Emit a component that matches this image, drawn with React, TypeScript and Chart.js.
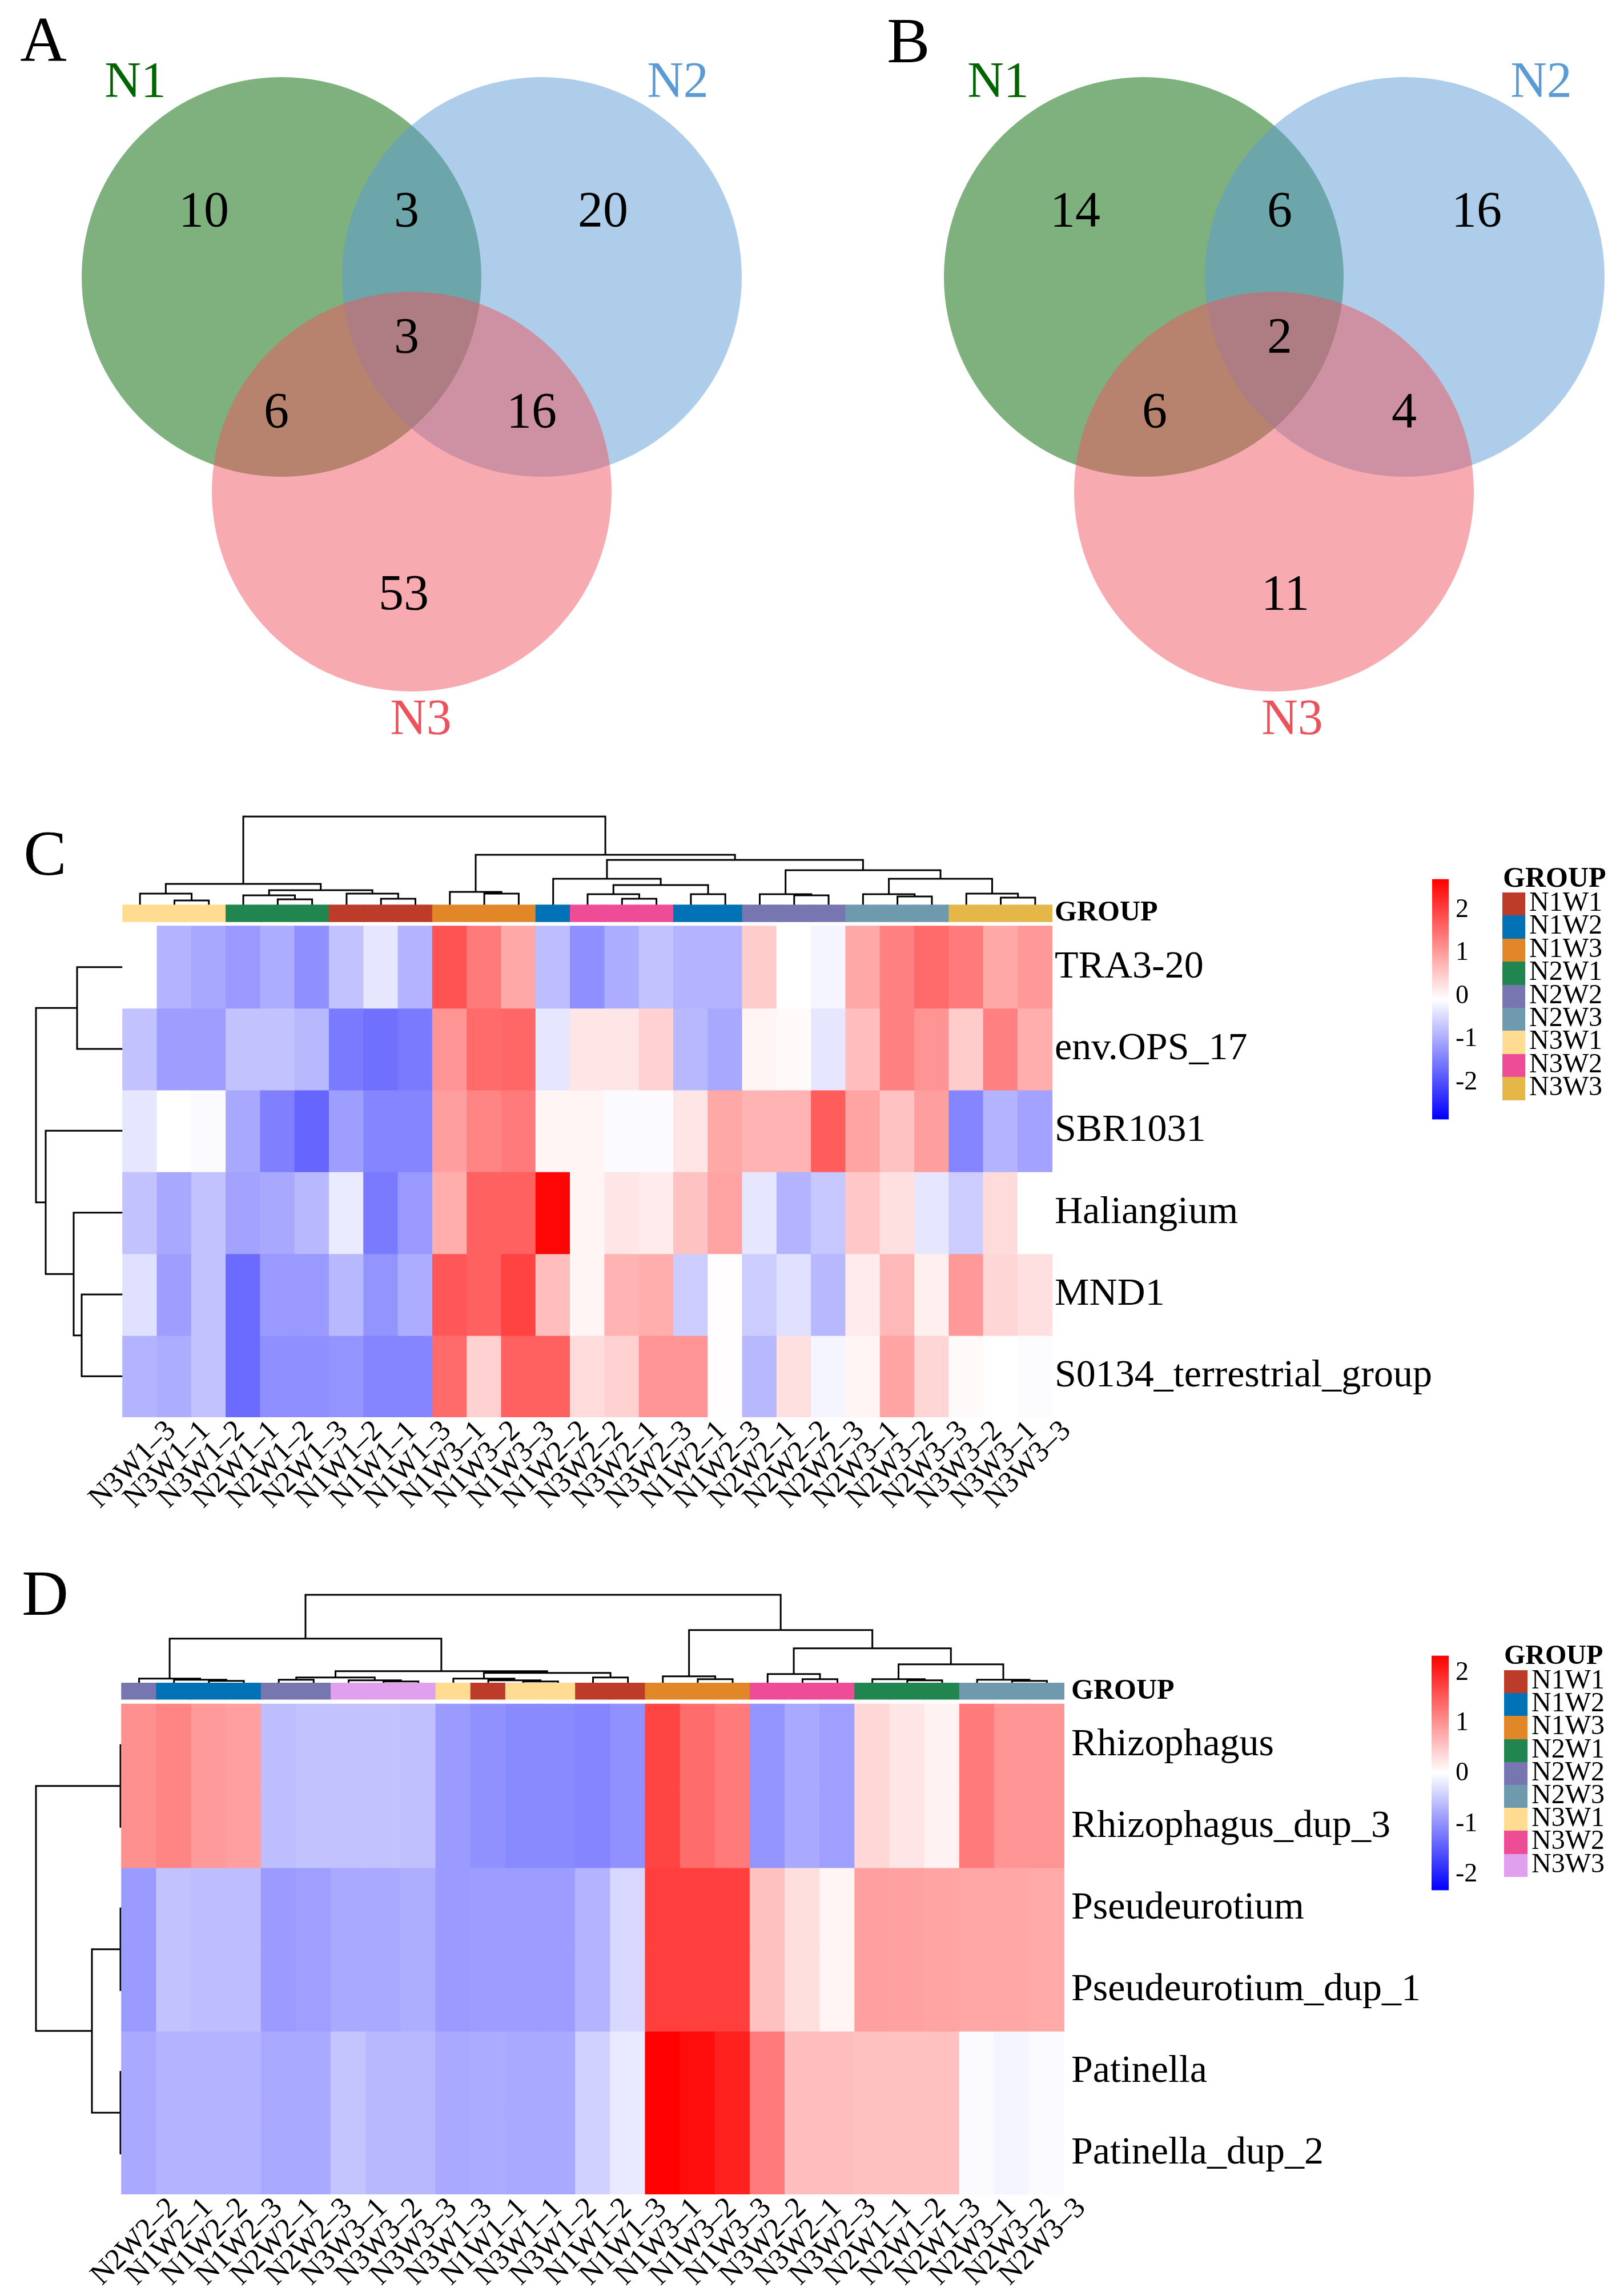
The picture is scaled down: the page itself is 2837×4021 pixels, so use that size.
import React, { useEffect, useRef } from 'react';
import { Chart, registerables } from 'chart.js';

Chart.register(...registerables);

const FONT = "'Liberation Serif', 'Times New Roman', Times, serif";
Chart.defaults.font.family = FONT;
Chart.defaults.color = '#000';

// ================= Venn data =================
const VENN_SETS = ['N1', 'N2', 'N3'];
// order: N1 only, N2 only, N3 only, N1&N2, N1&N3, N2&N3, N1&N2&N3
const VENN_A_COUNTS = [10, 20, 53, 3, 6, 16, 3];
const VENN_B_COUNTS = [14, 16, 11, 6, 6, 4, 2];
const VENN_FILLS = ['rgba(0,100,0,0.5)', 'rgba(91,155,213,0.5)', 'rgba(239,85,95,0.5)'];
const VENN_LABEL_COLORS = ['#006400', '#5B9BD5', '#EB525C'];

// layout (pixels of the figure)
const VENN_GEOM = {
  width: 2837,
  height: 1330,
  radius: 350,
  panels: [
    {
      centers: [[493, 485], [949, 485], [721, 861]],
      countPos: [[357, 373], [1056, 373], [707, 1044], [712, 373], [484, 725], [931, 725], [712, 594]],
      labelPos: [[237, 146], [1187, 146], [737, 1262]],
    },
    {
      centers: [[2003, 485], [2460, 485], [2231, 861]],
      countPos: [[1883, 373], [2586, 373], [2251, 1044], [2241, 373], [2022, 725], [2459, 725], [2241, 594]],
      labelPos: [[1748, 146], [2699, 146], [2263, 1262]],
    },
  ],
};

// ================= Groups =================
const GROUP_NAMES = ['N1W1', 'N1W2', 'N1W3', 'N2W1', 'N2W2', 'N2W3', 'N3W1', 'N3W2', 'N3W3'];
const C_GROUP_COLORS = ['#BC3C29', '#0072B5', '#E18727', '#20854E', '#7876B1', '#6F99AD', '#FFDC91', '#EE4C97', '#E4B748'];
const D_GROUP_COLORS = ['#BC3C29', '#0072B5', '#E18727', '#20854E', '#7876B1', '#6F99AD', '#FFDC91', '#EE4C97', '#E1A0EE'];

// ================= Heatmap C =================
const C_COLS = ['N3W1–3', 'N3W1–1', 'N3W1–2', 'N2W1–1', 'N2W1–2', 'N2W1–3', 'N1W1–2', 'N1W1–1', 'N1W1–3',
  'N1W3–1', 'N1W3–2', 'N1W3–3', 'N1W2–2', 'N3W2–2', 'N3W2–1', 'N3W2–3', 'N1W2–1', 'N1W2–3',
  'N2W2–1', 'N2W2–2', 'N2W2–3', 'N2W3–1', 'N2W3–2', 'N2W3–3', 'N3W3–2', 'N3W3–1', 'N3W3–3'];
const C_ROWS = ['TRA3-20', 'env.OPS_17', 'SBR1031', 'Haliangium', 'MND1', 'S0134_terrestrial_group'];
const C_TRA3_20 = [0, -0.84, -0.95, -1.12, -0.9, -1.23, -0.67, -0.28, -0.84, 1.9, 1.46, 0.95, -0.73, -1.23, -0.9, -0.67, -0.84, -0.84, 0.56, 0.0, -0.11, 0.95, 1.4, 1.62, 1.46, 0.95, 1.12];
const C_ENV_OPS_17 = [-0.67, -1.06, -1.06, -0.67, -0.67, -0.78, -1.46, -1.57, -1.46, 1.18, 1.62, 1.68, -0.28, 0.28, 0.28, 0.5, -0.78, -0.95, 0.11, 0.06, -0.28, 0.73, 1.4, 1.18, 0.56, 1.4, 0.9];
const C_SBR1031 = [-0.28, 0, -0.06, -0.95, -1.4, -1.68, -1.06, -1.34, -1.34, 1.06, 1.34, 1.46, 0.11, 0.11, -0.06, -0.06, 0.28, 0.95, 0.84, 0.84, 1.79, 1.01, 0.67, 1.06, -1.34, -0.84, -1.01];
const C_HALIANGIUM = [-0.67, -0.95, -0.67, -1.01, -0.95, -0.78, -0.22, -1.46, -1.12, 0.9, 1.74, 1.74, 2.73, 0.11, 0.28, 0.22, 0.67, 1.01, -0.28, -0.84, -0.62, 0.62, 0.34, -0.28, -0.56, 0.39, 0];
const C_MND1 = [-0.34, -1.06, -0.67, -1.62, -1.12, -1.12, -0.78, -1.18, -0.9, 1.85, 1.74, 2.07, 0.73, 0.11, 0.84, 0.9, -0.56, 0.02, -0.56, -0.34, -0.78, 0.22, 0.78, 0.17, 1.12, 0.45, 0.34];
const C_S0134 = [-0.84, -0.9, -0.67, -1.62, -1.23, -1.23, -1.18, -1.34, -1.34, 1.62, 0.5, 1.74, 1.74, 0.39, 0.5, 1.18, 1.18, 0.02, -0.78, 0.34, -0.11, 0.11, 1.01, 0.45, 0.06, 0, -0.03];
const C_VALUES = [C_TRA3_20, C_ENV_OPS_17, C_SBR1031, C_HALIANGIUM, C_MND1, C_S0134];
// dendrograms: [height, left, right], leaves = column / row index
const C_COL_LEFT = [37, [20, 0, [8, 1, 2]], [26, [17, 3, [10, 4, 5]], [20, 6, [11, 7, 8]]]];
const C_COL_T4 = [46, 12, [35, [19, 13, [11, 14, 15]], [19, 16, 17]]];
const C_COL_T5 = [61, [19, 18, [17, 19, 20]], [46, [19, 21, [15, 22, 23]], [20, 24, [13, 25, 26]]]];
const C_COL_RIGHT = [88, [23, 9, [20, 10, 11]], [79, C_COL_T4, C_COL_T5]];
const C_COL_TREE = [155, C_COL_LEFT, C_COL_RIGHT];
const C_ROW_TREE = [152, [80, 0, 1], [135, 2, [86, 3, [72, 4, 5]]]];
const C_COLOR_MAX = 2.8;
const C_BAR_RANGE = [-2.86, 2.72];

// ================= Heatmap D =================
const D_COLS = ['N2W2–2', 'N1W2–1', 'N1W2–2', 'N1W2–3', 'N2W2–1', 'N2W2–3', 'N3W3–1', 'N3W3–2', 'N3W3–3',
  'N3W1–3', 'N1W1–1', 'N3W1–1', 'N3W1–2', 'N1W1–2', 'N1W1–3', 'N1W3–1', 'N1W3–2', 'N1W3–3',
  'N3W2–2', 'N3W2–1', 'N3W2–3', 'N2W1–1', 'N2W1–2', 'N2W1–3', 'N2W3–1', 'N2W3–2', 'N2W3–3'];
const D_ROWS = ['Rhizophagus', 'Rhizophagus_dup_3', 'Pseudeurotium', 'Pseudeurotium_dup_1', 'Patinella', 'Patinella_dup_2'];
const D_RHIZOPHAGUS = [1.02, 1.12, 0.93, 0.88, -0.6, -0.56, -0.56, -0.56, -0.58, -0.93, -1.02, -1.07, -1.07, -1.12, -1.02, 1.72, 1.35, 1.21, -0.98, -0.79, -0.88, 0.37, 0.23, 0.12, 1.21, 0.98, 0.98];
const D_RHIZOPHAGUS_DUP_3 = [1.02, 1.12, 0.93, 0.88, -0.6, -0.56, -0.56, -0.56, -0.58, -0.93, -1.02, -1.07, -1.07, -1.12, -1.02, 1.72, 1.35, 1.21, -0.98, -0.79, -0.88, 0.37, 0.23, 0.12, 1.21, 0.98, 0.98];
const D_PSEUDEUROTIUM = [-0.93, -0.56, -0.6, -0.6, -0.93, -0.88, -0.79, -0.79, -0.74, -0.93, -0.9, -0.9, -0.9, -0.7, -0.37, 1.77, 1.77, 1.77, 0.58, 0.3, 0.09, 0.88, 0.86, 0.84, 0.82, 0.82, 0.79];
const D_PSEUDEUROTIUM_DUP_1 = [-0.93, -0.56, -0.6, -0.6, -0.93, -0.88, -0.79, -0.79, -0.74, -0.93, -0.9, -0.9, -0.9, -0.7, -0.37, 1.77, 1.77, 1.77, 0.58, 0.3, 0.09, 0.88, 0.86, 0.84, 0.82, 0.82, 0.79];
const D_PATINELLA = [-0.79, -0.7, -0.7, -0.7, -0.79, -0.79, -0.54, -0.65, -0.65, -0.79, -0.77, -0.79, -0.79, -0.42, -0.2, 2.33, 2.23, 2.05, 1.21, 0.6, 0.6, 0.58, 0.58, 0.58, -0.05, -0.09, -0.05];
const D_PATINELLA_DUP_2 = [-0.79, -0.7, -0.7, -0.7, -0.79, -0.79, -0.54, -0.65, -0.65, -0.79, -0.77, -0.79, -0.79, -0.42, -0.2, 2.33, 2.23, 2.05, 1.21, 0.6, 0.6, 0.58, 0.58, 0.58, -0.05, -0.09, -0.05];
const D_VALUES = [D_RHIZOPHAGUS, D_RHIZOPHAGUS_DUP_3, D_PSEUDEUROTIUM, D_PSEUDEUROTIUM_DUP_1, D_PATINELLA, D_PATINELLA_DUP_2];
const D_COL_L1 = [8, 0, [6, 1, [4, 2, 3]]];
const D_COL_L2 = [21, [10, [6, 4, 5], [5, 6, [3, 7, 8]]], [18, [8, 9, [5, 10, [3, 11, 12]]], [10, 13, 14]]];
const D_COL_RIGHT = [93, [12, 15, [7, 16, 17]], [61, [16, 18, [7, 19, 20]], [33, [7, 21, [5, 22, 23]], [6, 24, [4, 25, 26]]]]];
const D_COL_TREE = [155, [78, D_COL_L1, D_COL_L2], D_COL_RIGHT];
const D_ROW_TREE = [150, [2, 0, 1], [52, [2, 2, 3], [2, 4, 5]]];
const D_COLOR_MAX = 2.34;
const D_BAR_RANGE = [-2.31, 2.34];

const COLORBAR_TICKS = [-2, -1, 0, 1, 2];

// ================= layouts (figure pixels) =================
const C_LAYOUT = { left: 0, top: 1380, width: 2530, height: 1320, cellsLeft: 215, cellsRight: 1843, cellsTop: 1622, cellsBottom: 2482, barTop: 1585, barBottom: 1614, chartTop: 1420, leftCols: 3, tickPad: 4, labelOffset: 55 };
const D_LAYOUT = { left: 0, top: 2740, width: 2530, height: 1281, cellsLeft: 213, cellsRight: 1864, cellsTop: 2983, cellsBottom: 3843, barTop: 2946, barBottom: 2974, chartTop: 2780, leftCols: 3, tickPad: 12, labelOffset: 60 };

function heatColor(v: number, vmax: number) {
  const t = Math.min(1, Math.abs(v) / vmax);
  const c = Math.round(255 * (1 - t));
  return v >= 0 ? `rgb(255,${c},${c})` : `rgb(${c},${c},255)`;
}

function dendroPoints(tree: any, map: (p: number, h: number) => any) {
  const pts: any[] = [];
  const walk = (n: any): { p: number; h: number } => {
    if (typeof n === 'number') return { p: n + 0.5, h: 0 };
    const a = walk(n[1]);
    const b = walk(n[2]);
    const h = n[0];
    pts.push(map(a.p, a.h), map(a.p, h), map(b.p, h), map(b.p, b.h));
    const end = map(b.p, b.h);
    pts.push({ x: end.x, y: null });
    return { p: (a.p + b.p) / 2, h };
  };
  walk(tree);
  return pts;
}

function Heatmap({ L, cols, rows, values, groupColors, colTree, rowTree, vmax }: any) {
  const ref = useRef<HTMLCanvasElement>(null);
  useEffect(() => {
    const nC = cols.length;
    const nR = rows.length;
    const colW = (L.cellsRight - L.cellsLeft) / nC;
    const rowH = (L.cellsBottom - L.cellsTop) / nR;
    const chartLeft = L.cellsLeft - L.leftCols * colW;
    const padLeft = chartLeft - L.left;
    const padTop = L.chartTop - L.top;
    const rightW = L.left + L.width - L.cellsRight;
    const bottomH = L.top + L.height - L.cellsBottom;
    const yMax = (L.cellsBottom - L.chartTop) / rowH;
    const g0 = (L.cellsBottom - L.barBottom) / rowH;
    const g1 = (L.cellsBottom - L.barTop) / rowH;

    const datasets: any[] = [];
    values.forEach((row: number[], i: number) => {
      datasets.push({
        type: 'bar',
        label: rows[i],
        data: row.map((_v, j) => ({ x: j + 0.5, y: [nR - i - 1, nR - i] })),
        backgroundColor: row.map((v) => heatColor(v, vmax)),
        borderWidth: 0,
        barPercentage: 1,
        categoryPercentage: 1,
        grouped: false,
        inflateAmount: 0.8,
        xAxisID: 'x',
        yAxisID: 'y',
      });
    });
    datasets.push({
      type: 'bar',
      label: 'GROUP',
      data: cols.map((_c: string, j: number) => ({ x: j + 0.5, y: [g0, g1] })),
      backgroundColor: cols.map((c: string) => groupColors[GROUP_NAMES.indexOf(c.split('–')[0])]),
      borderWidth: 0,
      barPercentage: 1,
      categoryPercentage: 1,
      grouped: false,
      inflateAmount: 0.8,
      xAxisID: 'x',
      yAxisID: 'y',
    });
    const lineStyle = { borderColor: '#000', borderWidth: 3, pointRadius: 0, fill: false, tension: 0, spanGaps: false };
    datasets.push({
      type: 'line', label: 'col dendrogram', ...lineStyle,
      data: dendroPoints(colTree, (p, h) => ({ x: p, y: h })),
      xAxisID: 'x', yAxisID: 'yd',
    });
    datasets.push({
      type: 'line', label: 'row dendrogram', ...lineStyle,
      data: dendroPoints(rowTree, (p, h) => ({ x: -h, y: nR - p })),
      xAxisID: 'xd', yAxisID: 'y',
    });

    const yTicks = [...rows.map((_r: string, i: number) => nR - i - 0.5), (g0 + g1) / 2];
    const yLabels = [...rows, 'GROUP'];

    const chart = new Chart(ref.current as HTMLCanvasElement, {
      type: 'bar',
      data: { datasets },
      options: {
        animation: false,
        responsive: false,
        maintainAspectRatio: false,
        events: [],
        layout: { padding: { left: padLeft, top: padTop, right: 0, bottom: 0 } },
        plugins: { legend: { display: false }, tooltip: { enabled: false } },
        scales: {
          x: {
            type: 'linear', axis: 'x', position: 'bottom', min: -L.leftCols, max: nC, offset: false,
            grid: { display: false, drawTicks: false }, border: { display: false },
            afterBuildTicks: (s: any) => { s.ticks = cols.map((_c: string, j: number) => ({ value: j + 0.5 })); },
            afterFit: (s: any) => { s.height = bottomH; },
            ticks: {
              autoSkip: false, minRotation: 45, maxRotation: 45, padding: -6, labelOffset: L.labelOffset,
              color: '#000', font: { family: FONT, size: 52 },
              callback: (_v: any, i: number) => cols[i],
            },
          },
          y: {
            type: 'linear', axis: 'y', position: 'right', min: 0, max: yMax,
            grid: { display: false, drawTicks: false }, border: { display: false },
            afterBuildTicks: (s: any) => { s.ticks = yTicks.map((v) => ({ value: v })); },
            afterFit: (s: any) => { s.width = rightW; },
            ticks: {
              autoSkip: false, padding: L.tickPad, color: '#000',
              font: (ctx: any) => (ctx.index === nR ? { family: FONT, size: 50, weight: 'bold' } : { family: FONT, size: 68 }),
              callback: (_v: any, i: number) => yLabels[i],
            },
          },
          xd: { type: 'linear', axis: 'x', display: false, offset: false, min: -(L.cellsLeft - chartLeft), max: L.cellsRight - L.cellsLeft },
          yd: { type: 'linear', axis: 'y', display: false, offset: false, min: -(L.cellsBottom - L.barTop), max: L.barTop - L.chartTop },
        },
      } as any,
    });
    return () => chart.destroy();
  }, []);
  return (
    <canvas ref={ref} width={L.width} height={L.height}
      style={{ position: 'absolute', left: L.left, top: L.top, width: L.width, height: L.height }} />
  );
}

function ColorBar({ left, top, width, height, barLeft, barRight, barTop, barBottom, range }: any) {
  const ref = useRef<HTMLCanvasElement>(null);
  useEffect(() => {
    const chart = new Chart(ref.current as HTMLCanvasElement, {
      type: 'bar',
      data: {
        labels: ['scale'],
        datasets: [{
          data: [range],
          barPercentage: 1,
          categoryPercentage: 1,
          borderWidth: 0,
          backgroundColor: (ctx: any) => {
            const area = ctx.chart.chartArea;
            if (!area) return '#fff';
            const g = ctx.chart.ctx.createLinearGradient(0, area.bottom, 0, area.top);
            g.addColorStop(0, 'rgb(0,0,255)');
            g.addColorStop(0.5, 'rgb(255,255,255)');
            g.addColorStop(1, 'rgb(255,0,0)');
            return g;
          },
        }],
      },
      options: {
        animation: false,
        responsive: false,
        maintainAspectRatio: false,
        events: [],
        layout: { padding: { left: barLeft - left, top: barTop - top, bottom: top + height - barBottom, right: 0 } },
        plugins: { legend: { display: false }, tooltip: { enabled: false } },
        scales: {
          x: { display: false },
          y: {
            position: 'right', min: range[0], max: range[1],
            grid: { display: false, drawTicks: false }, border: { display: false },
            afterBuildTicks: (s: any) => { s.ticks = COLORBAR_TICKS.map((v) => ({ value: v })); },
            afterFit: (s: any) => { s.width = left + width - barRight; },
            ticks: { padding: 12, color: '#000', font: { family: FONT, size: 46 } },
          },
        },
      } as any,
    });
    return () => chart.destroy();
  }, []);
  return (
    <canvas ref={ref} width={width} height={height}
      style={{ position: 'absolute', left, top, width, height }} />
  );
}

function Venn() {
  const ref = useRef<HTMLCanvasElement>(null);
  useEffect(() => {
    const radius = (ctx: any) => {
      const s = ctx.chart.scales.x;
      if (!s || !s.width) return 0;
      return Math.abs(s.getPixelForValue(VENN_GEOM.radius) - s.getPixelForValue(0));
    };
    const allCounts = [VENN_A_COUNTS, VENN_B_COUNTS];
    const textPlugin = {
      id: 'vennText',
      afterDatasetsDraw(chart: any) {
        const { ctx, scales } = chart;
        const sx = scales.x, sy = scales.y;
        ctx.save();
        ctx.textAlign = 'center';
        ctx.textBaseline = 'middle';
        VENN_GEOM.panels.forEach((p, k) => {
          ctx.font = `88px ${FONT}`;
          ctx.fillStyle = '#000';
          allCounts[k].forEach((c, i) => {
            ctx.fillText(String(c), sx.getPixelForValue(p.countPos[i][0]), sy.getPixelForValue(p.countPos[i][1]));
          });
          VENN_SETS.forEach((name, i) => {
            ctx.fillStyle = VENN_LABEL_COLORS[i];
            ctx.fillText(name, sx.getPixelForValue(p.labelPos[i][0]), sy.getPixelForValue(p.labelPos[i][1]));
          });
        });
        ctx.restore();
      },
    };
    const chart = new Chart(ref.current as HTMLCanvasElement, {
      type: 'scatter',
      data: {
        datasets: VENN_GEOM.panels.map((p, k) => ({
          label: k === 0 ? 'A' : 'B',
          data: p.centers.map((c) => ({ x: c[0], y: c[1] })),
          pointBackgroundColor: VENN_FILLS,
          backgroundColor: VENN_FILLS,
          pointBorderWidth: 0,
          borderWidth: 0,
          pointRadius: radius,
          showLine: false,
          clip: false,
        })),
      },
      options: {
        animation: false,
        responsive: false,
        maintainAspectRatio: false,
        events: [],
        layout: { padding: 0 },
        plugins: { legend: { display: false }, tooltip: { enabled: false } },
        scales: {
          x: { type: 'linear', display: false, min: 0, max: VENN_GEOM.width },
          y: { type: 'linear', display: false, min: 0, max: VENN_GEOM.height, reverse: true },
        },
      } as any,
      plugins: [textPlugin],
    });
    return () => chart.destroy();
  }, []);
  return (
    <canvas ref={ref} width={VENN_GEOM.width} height={VENN_GEOM.height}
      style={{ position: 'absolute', left: 0, top: 0, width: VENN_GEOM.width, height: VENN_GEOM.height }} />
  );
}

function GroupLegend({ titleLeft, titleCapTop, titleSize, boxLeft, boxTop, boxW, boxH, labelLeft, colors }: any) {
  return (
    <>
      <div style={{ position: 'absolute', left: titleLeft, top: titleCapTop - 0.175 * titleSize, fontSize: titleSize, lineHeight: 1, fontWeight: 'bold', fontFamily: FONT, whiteSpace: 'nowrap' }}>GROUP</div>
      {GROUP_NAMES.map((g, i) => (
        <React.Fragment key={g}>
          <div style={{ position: 'absolute', left: boxLeft, top: boxTop + i * boxH, width: boxW, height: boxH + 0.6, background: colors[i] }} />
          <div style={{ position: 'absolute', left: labelLeft, top: boxTop + i * boxH - 4, height: boxH, lineHeight: `${boxH}px`, fontSize: 48, fontFamily: FONT, whiteSpace: 'nowrap' }}>{g}</div>
        </React.Fragment>
      ))}
    </>
  );
}

function PanelLetter({ text, cx, cy }: any) {
  return (
    <div style={{ position: 'absolute', left: cx, top: cy, transform: 'translate(-50%, -50%)', fontSize: 113, lineHeight: 1, fontFamily: FONT }}>{text}</div>
  );
}

export default function App() {
  return (
    <div style={{ position: 'absolute', left: 0, top: 0, width: 2837, height: 4021, background: '#fff', overflow: 'hidden' }}>
      <Venn />
      <PanelLetter text="A" cx={76} cy={68} />
      <PanelLetter text="B" cx={1591} cy={70} />
      <Heatmap L={C_LAYOUT} cols={C_COLS} rows={C_ROWS} values={C_VALUES} groupColors={C_GROUP_COLORS}
        colTree={C_COL_TREE} rowTree={C_ROW_TREE} vmax={C_COLOR_MAX} />
      <Heatmap L={D_LAYOUT} cols={D_COLS} rows={D_ROWS} values={D_VALUES} groupColors={D_GROUP_COLORS}
        colTree={D_COL_TREE} rowTree={D_ROW_TREE} vmax={D_COLOR_MAX} />
      <PanelLetter text="C" cx={79} cy={1493} />
      <PanelLetter text="D" cx={79} cy={2789} />
      <ColorBar left={2490} top={1500} width={160} height={500} barLeft={2508} barRight={2537} barTop={1533} barBottom={1964} range={C_BAR_RANGE} />
      <ColorBar left={2490} top={2860} width={160} height={490} barLeft={2507} barRight={2537} barTop={2894} barBottom={3313} range={D_BAR_RANGE} />
      <GroupLegend titleLeft={2632} titleCapTop={1520} titleSize={50} boxLeft={2631} boxTop={1563} boxW={40} boxH={40.4} labelLeft={2678} colors={C_GROUP_COLORS} />
      <GroupLegend titleLeft={2634} titleCapTop={2882} titleSize={48} boxLeft={2634} boxTop={2925} boxW={41} boxH={40.2} labelLeft={2682} colors={D_GROUP_COLORS} />
    </div>
  );
}
